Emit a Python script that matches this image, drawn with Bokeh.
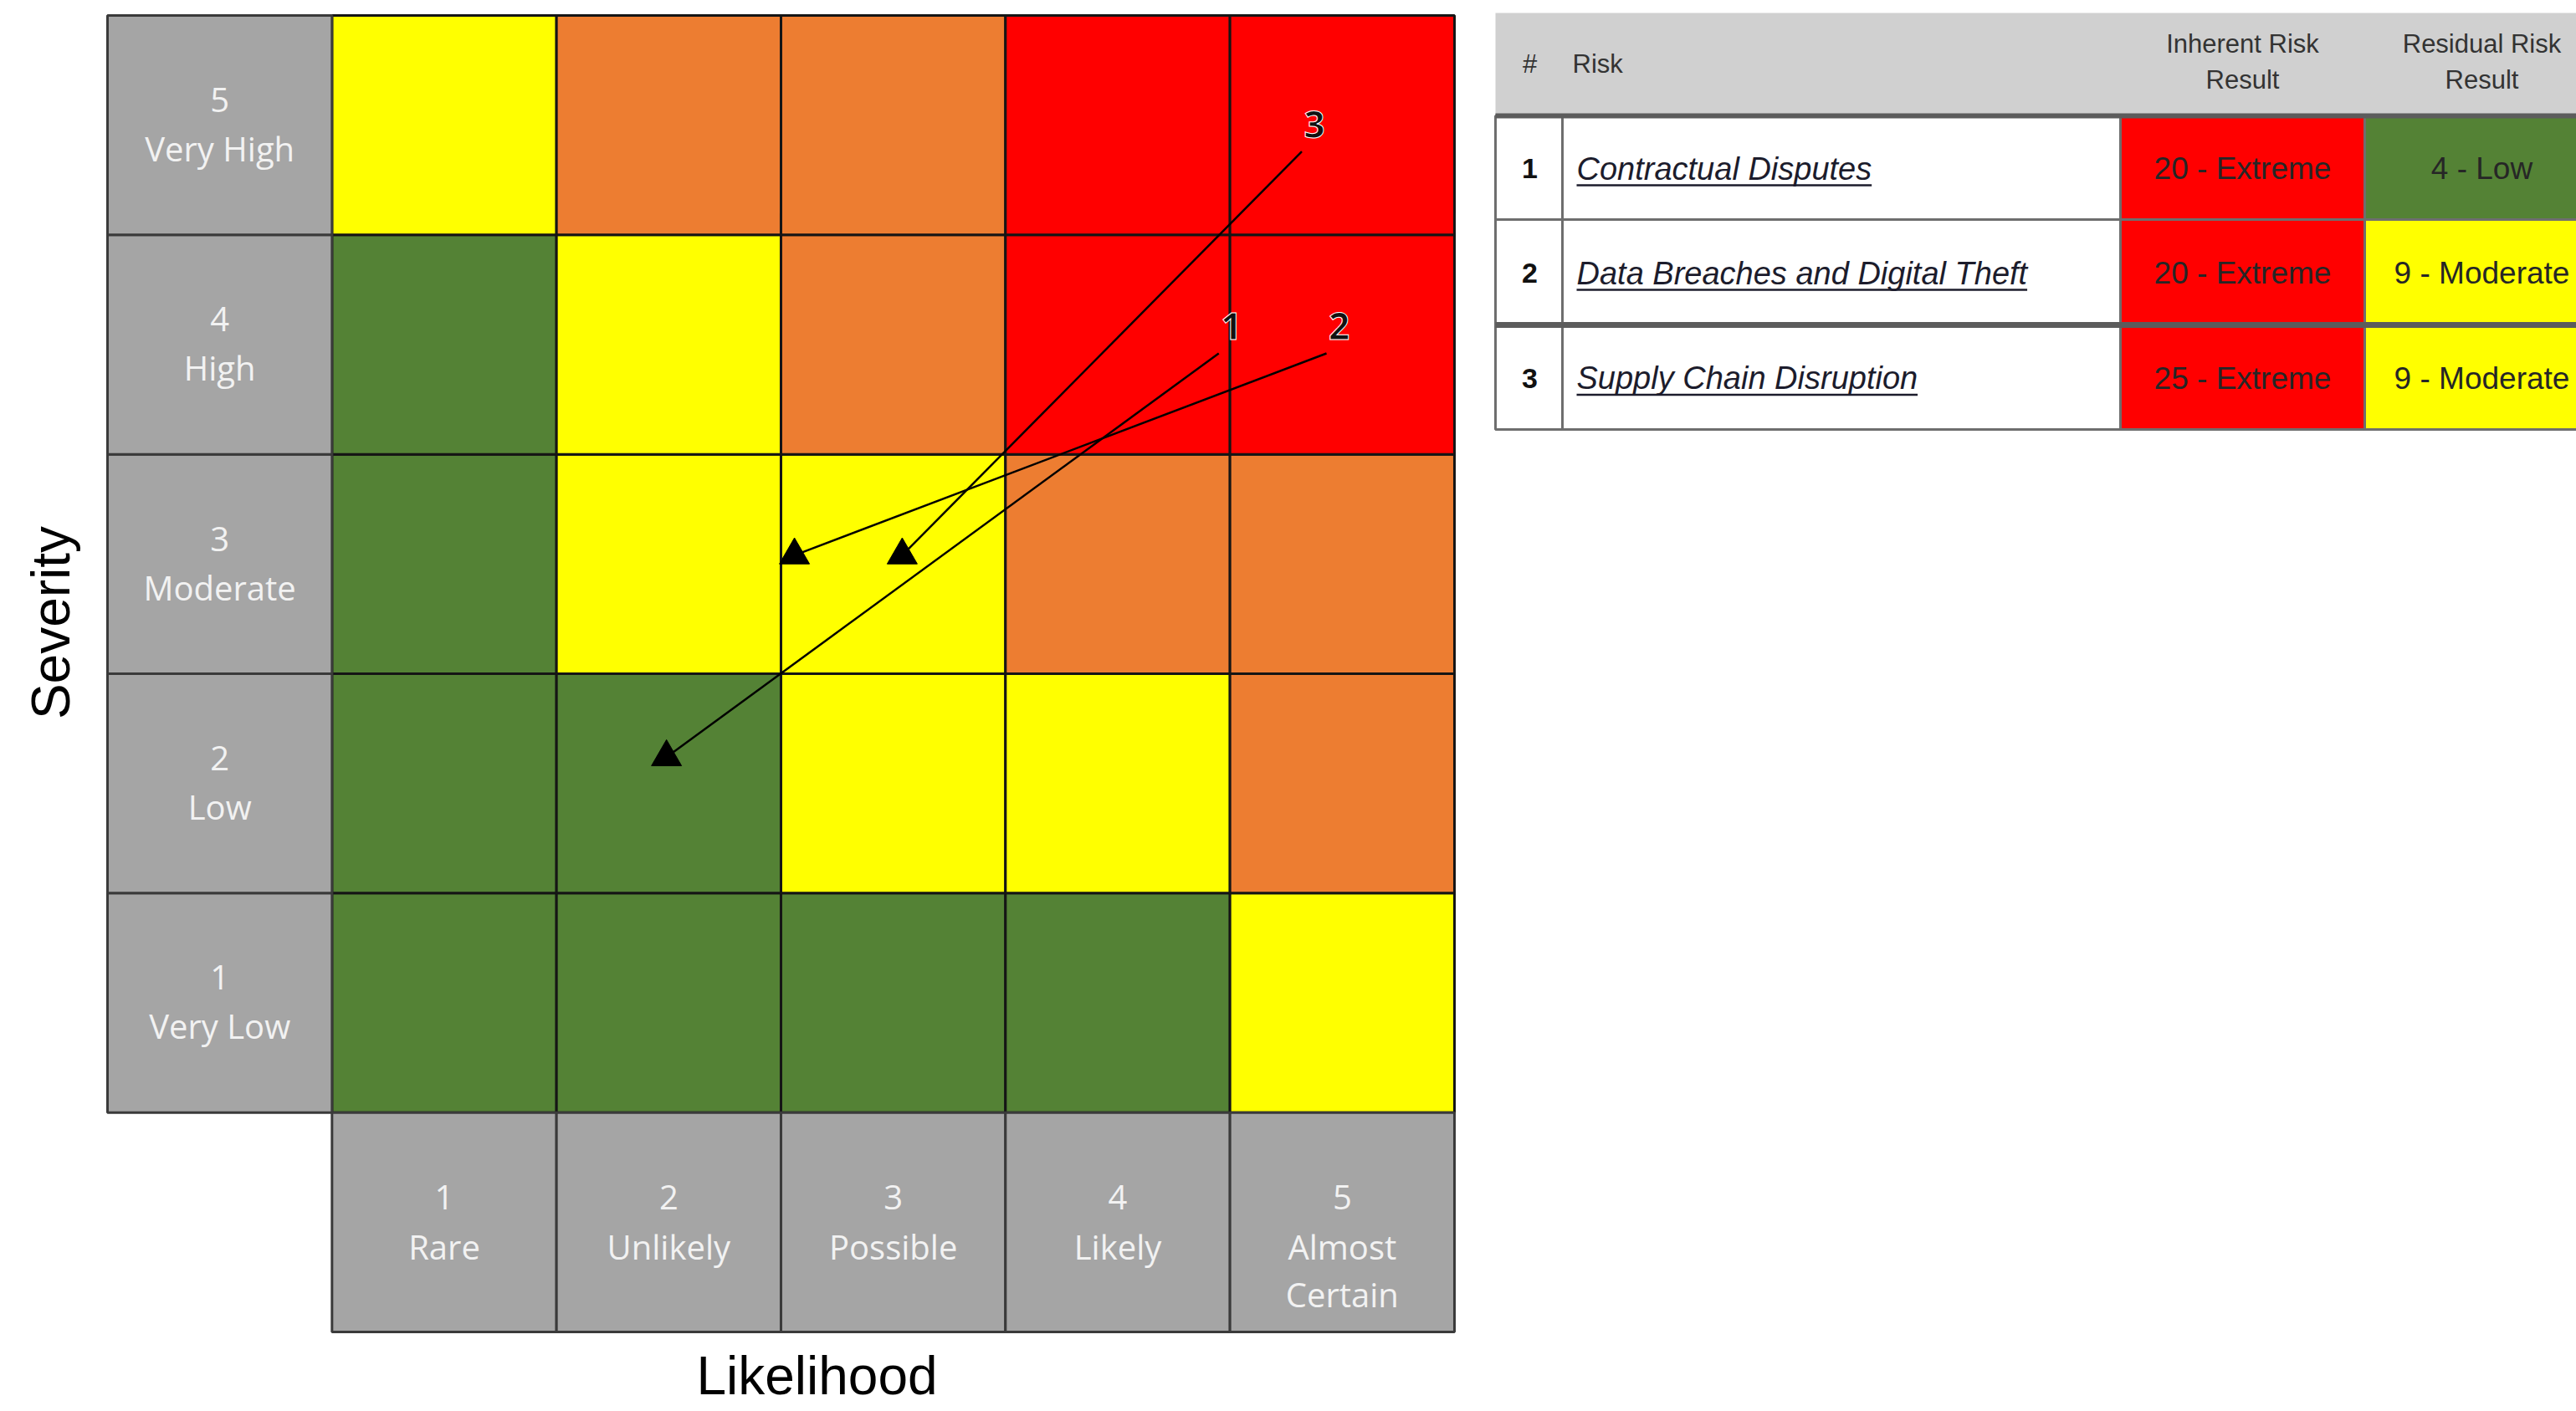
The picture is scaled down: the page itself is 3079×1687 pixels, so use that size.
import math
from bokeh.plotting import figure
from bokeh.models import Range1d
from bokeh.layouts import row
from bokeh.embed import file_html
from bokeh.resources import INLINE
from bokeh.core.properties import value

# ---------------- data ----------------
likelihood_nums = [1, 2, 3, 4, 5]
likelihood_names = ["Rare", "Unlikely", "Possible", "Likely", "Almost\nCertain"]
severity_nums = [1, 2, 3, 4, 5]
severity_names = ["Very Low", "Low", "Moderate", "High", "Very High"]

# risk level of each matrix cell: rows = severity 1..5, columns = likelihood 1..5
cell_levels = [
    ["Low", "Low", "Low", "Low", "Moderate"],
    ["Low", "Low", "Moderate", "Moderate", "High"],
    ["Low", "Moderate", "Moderate", "High", "High"],
    ["Low", "Moderate", "High", "Extreme", "Extreme"],
    ["Moderate", "High", "High", "Extreme", "Extreme"],
]
level_colors = {"Low": "#548235", "Moderate": "#ffff00", "High": "#ed7d31", "Extreme": "#ff0000"}

risk_ids = ["1", "2", "3"]
risk_names = ["Contractual Disputes", "Data Breaches and Digital Theft", "Supply Chain Disruption"]
inherent_score = [20, 20, 25]
inherent_level = ["Extreme", "Extreme", "Extreme"]
residual_score = [4, 9, 9]
residual_level = ["Low", "Moderate", "Moderate"]
# plotted (likelihood, severity) positions of the arrows, read from the matrix
inherent_x = [4.45, 4.93, 4.82]
inherent_y = [3.96, 3.96, 4.88]
residual_x = [1.99, 2.56, 3.04]
residual_y = [2.12, 3.04, 3.04]

# ---------------- matrix figure ----------------
PX_X, PX_Y = 268.33, 262.33
X0, Y0 = 128, 18


def dxp(px):
    return -0.5 + (px - X0) / PX_X


def dyp(py):
    return 5.5 - (py - Y0) / PX_Y


W1, H = 1780, 1687
p = figure(width=W1, height=H, x_range=Range1d(dxp(0), dxp(W1)), y_range=Range1d(dyp(H), dyp(0)),
           output_backend="svg", toolbar_location=None, min_border=0,
           x_axis_location=None, y_axis_location=None)
p.grid.visible = False
p.outline_line_color = None
p.background_fill_color = "white"
p.border_fill_color = "white"

cx, cy, cc = [], [], []
for si, s in enumerate(severity_nums):
    for li, l in enumerate(likelihood_nums):
        cx.append(l)
        cy.append(s)
        cc.append(level_colors[cell_levels[si][li]])
p.rect(x=cx, y=cy, width=1, height=1, fill_color=cc, line_color="#151515", line_width=3)

GRAY = "#a5a5a5"
p.rect(x=[0] * 5, y=severity_nums, width=1, height=1, fill_color=GRAY, line_color="#3a3a3a", line_width=3)
p.rect(x=likelihood_nums, y=[0] * 5, width=1, height=1, fill_color=GRAY, line_color="#3a3a3a", line_width=3)

lab_kw = dict(text_font=value("Open Sans"), text_font_size="40px", text_color="#f2f2f2",
              text_align="center", text_baseline="middle")
# severity labels
p.text(x=[0] * 5, y=[s + 30 / PX_Y for s in severity_nums], text=[str(s) for s in severity_nums], **lab_kw)
p.text(x=[0] * 5, y=[s - 28 / PX_Y for s in severity_nums], text=severity_names, **lab_kw)
# likelihood labels
p.text(x=likelihood_nums, y=[30 / PX_Y] * 5, text=[str(l) for l in likelihood_nums], **lab_kw)
lx, ly, lt = [], [], []
for l, name in zip(likelihood_nums, likelihood_names):
    for k, part in enumerate(name.split("\n")):
        lx.append(l)
        ly.append(-(29 + 57 * k) / PX_Y)
        lt.append(part)
p.text(x=lx, y=ly, text=lt, **lab_kw)

# axis titles
ttl_kw = dict(text_font=value("Liberation Sans"), text_font_size="64px", text_color="#000000",
              text_align="center")
p.text(x=[dxp(60)], y=[dyp(744)], text=["Severity"], angle=math.pi / 2, text_baseline="middle", **ttl_kw)
p.text(x=[dxp(976)], y=[dyp(1644)], text=["Likelihood"], text_baseline="middle", **ttl_kw)

# arrows inherent -> residual
p.segment(x0=inherent_x, y0=inherent_y, x1=residual_x, y1=residual_y, line_color="black", line_width=2.5)
p.scatter(x=residual_x, y=residual_y, marker="triangle", size=36, fill_color="black", line_color="black")

num_kw = dict(text_font=value("Open Sans"), text_font_size="44px", text_color="#111111",
              text_align="center", text_baseline="middle", text_font_style="bold")
nx = [x + 15 / PX_X for x in inherent_x]
ny = [y + 32 / PX_Y for y in inherent_y]
try:
    p.text(x=nx, y=ny, text=risk_ids, text_outline_color="white", **num_kw)
except AttributeError:
    p.text(x=nx, y=ny, text=risk_ids, **num_kw)

# ---------------- table figure ----------------
TX0 = 1780
W2 = 3079 - TX0
t = figure(width=W2, height=H, x_range=Range1d(TX0, 3079), y_range=Range1d(H, 0),
           output_backend="svg", toolbar_location=None, min_border=0,
           x_axis_location=None, y_axis_location=None)
t.grid.visible = False
t.outline_line_color = None
t.background_fill_color = "white"
t.border_fill_color = "white"

col_edges = [1787, 1867, 2534, 2826, 3112]
head_top, head_bot = 15, 138
row_edges = [138, 262, 388, 513]
BORDER = "#6e6e6e"

# header band
t.quad(left=[col_edges[0]], right=[col_edges[-1]], top=[head_top], bottom=[head_bot],
       fill_color="#d0d0d0", line_color=None)

n = len(risk_ids)
tops = row_edges[:n]
bots = row_edges[1:n + 1]
t.quad(left=[col_edges[0]] * n, right=[col_edges[1]] * n, top=tops, bottom=bots,
       fill_color="white", line_color=BORDER, line_width=3)
t.quad(left=[col_edges[1]] * n, right=[col_edges[2]] * n, top=tops, bottom=bots,
       fill_color="white", line_color=BORDER, line_width=3)
t.quad(left=[col_edges[2]] * n, right=[col_edges[3]] * n, top=tops, bottom=bots,
       fill_color=[level_colors[v] for v in inherent_level], line_color=BORDER, line_width=3)
t.quad(left=[col_edges[3]] * n, right=[col_edges[4]] * n, top=tops, bottom=bots,
       fill_color=[level_colors[v] for v in residual_level], line_color=BORDER, line_width=3)
# heavier separators
t.segment(x0=[col_edges[0]] * 2, y0=[head_bot, row_edges[2]], x1=[col_edges[-1]] * 2,
          y1=[head_bot, row_edges[2]], line_color="#5c5c5c", line_width=[6, 7])

hd_kw = dict(text_font=value("Liberation Sans"), text_font_size="31px", text_color="#333333",
             text_baseline="middle")
t.text(x=[1828], y=[76], text=["#"], text_align="center", **hd_kw)
t.text(x=[1879], y=[76], text=["Risk"], text_align="left", **hd_kw)
ccx_inh = (col_edges[2] + col_edges[3]) / 2
ccx_res = (col_edges[3] + col_edges[4]) / 2 - 3
t.text(x=[ccx_inh, ccx_inh, ccx_res, ccx_res], y=[52, 95, 52, 95],
       text=["Inherent Risk", "Result", "Residual Risk", "Result"], text_align="center", **hd_kw)

row_cy = [(a + b) / 2 + 1 for a, b in zip(tops, bots)]
t.text(x=[1828] * n, y=row_cy, text=risk_ids, text_font=value("Liberation Sans"), text_font_size="34px",
       text_font_style="bold", text_color="#111111", text_align="center", text_baseline="middle")

NAME_X = 1884
NAME_FS = 38
t.text(x=[NAME_X] * n, y=row_cy, text=risk_names, text_font=value("Liberation Sans"),
       text_font_size=f"{NAME_FS}px", text_font_style="italic", text_color="#1c1c2c",
       text_align="left", text_baseline="middle")

# underline widths estimated from Arial/Liberation Sans advance widths
AW = {" ": 278, "C": 722, "D": 722, "B": 667, "T": 611, "S": 667, "a": 556, "b": 556, "c": 500,
      "d": 556, "e": 556, "f": 278, "g": 556, "h": 556, "i": 222, "l": 222, "m": 833, "n": 556,
      "o": 556, "p": 556, "r": 333, "s": 500, "t": 278, "u": 556, "y": 500}
ul_len = [sum(AW.get(ch, 556) for ch in nm) / 1000 * NAME_FS for nm in risk_names]
t.segment(x0=[NAME_X] * n, y0=[c + 20 for c in row_cy], x1=[NAME_X + w for w in ul_len],
          y1=[c + 20 for c in row_cy], line_color="#1c1c2c", line_width=2.5)

val_kw = dict(text_font=value("Liberation Sans"), text_font_size="37px", text_color="#262626",
              text_align="center", text_baseline="middle")
t.text(x=[ccx_inh] * n, y=row_cy, text=[f"{s} - {lv}" for s, lv in zip(inherent_score, inherent_level)], **val_kw)
t.text(x=[ccx_res] * n, y=row_cy, text=[f"{s} - {lv}" for s, lv in zip(residual_score, residual_level)], **val_kw)

layout = row(p, t)
open("out.html", "w").write(file_html(layout, INLINE))
